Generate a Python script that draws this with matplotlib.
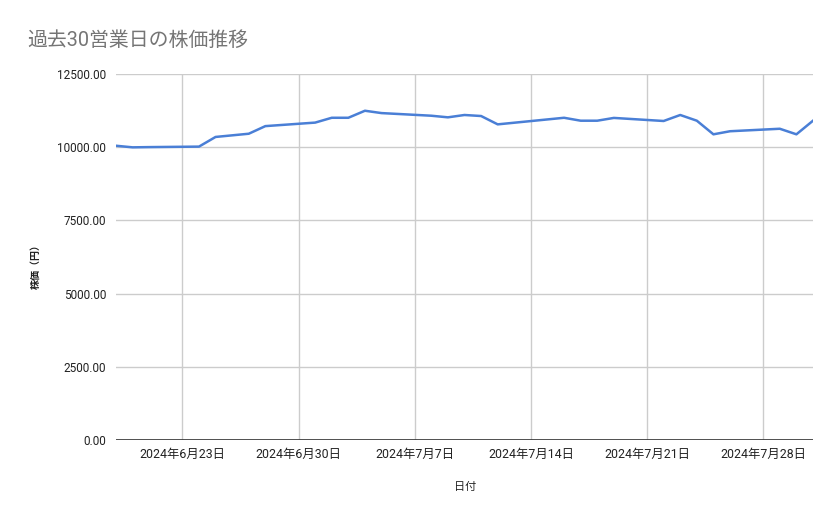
import matplotlib
matplotlib.use("Agg")
import matplotlib.pyplot as plt
import matplotlib.dates as mdates
import numpy as np
import pandas as pd

plt.rcParams['font.family'] = ['Roboto', 'Noto Sans CJK JP', 'DejaVu Sans']

title = "過去30営業日の株価推移"
x_label = "日付"
y_label = "株価（円）"

dates = ["2024-06-19", "2024-06-20", "2024-06-21", "2024-06-24", "2024-06-25",
         "2024-06-26", "2024-06-27", "2024-06-28", "2024-07-01", "2024-07-02",
         "2024-07-03", "2024-07-04", "2024-07-05", "2024-07-08", "2024-07-09",
         "2024-07-10", "2024-07-11", "2024-07-12", "2024-07-16", "2024-07-17",
         "2024-07-18", "2024-07-19", "2024-07-22", "2024-07-23", "2024-07-24",
         "2024-07-25", "2024-07-26", "2024-07-29", "2024-07-30", "2024-07-31"]
prices = [10050, 9995, 10003, 10020, 10350,
          10405, 10460, 10720, 10840, 11005,
          11005, 11245, 11165, 11075, 11020,
          11100, 11065, 10780, 11005, 10905,
          10905, 11000, 10895, 11100, 10905,
          10440, 10545, 10630, 10440, 10905]
y_ticks = [0, 2500, 5000, 7500, 10000, 12500]
x_tick_dates = ["2024-06-23", "2024-06-30", "2024-07-07", "2024-07-14", "2024-07-21", "2024-07-28"]

d = pd.to_datetime(dates)
xt = pd.to_datetime(x_tick_dates)

fig = plt.figure(figsize=(8.39, 5.19), dpi=100)
ax = fig.add_axes([116/839, 1-440/519, (813-116)/839, (440-74)/519])

ax.plot(d, prices, color="#4a7fd6", linewidth=1.8, solid_joinstyle='round', zorder=3)

ax.set_xlim(d[0], d[-1])
ax.set_ylim(0, 12500)
ax.set_yticks(y_ticks)
ax.set_yticklabels([f"{v:.2f}" for v in y_ticks])
ax.set_xticks(xt)
ax.set_xticklabels([f"{t.year}年{t.month}月{t.day}日" for t in xt])

ax.grid(True, color="#cccccc", linewidth=1.0, zorder=0)
ax.axhline(0, color="#333333", linewidth=1.2, zorder=2)
for s in ax.spines.values():
    s.set_visible(False)
ax.tick_params(axis='y', length=0, labelsize=8.5, colors="#222222", pad=7)
ax.tick_params(axis='x', length=0, labelsize=8.9, colors="#222222", pad=6)

fig.text(465/839, 1-487/519, x_label, ha='center', va='center', fontsize=8, color="#222222")
fig.text(36/839, 1-264/519, y_label, ha='center', va='center', rotation=90, fontsize=7.2,
         color="#222222", fontweight='bold')
fig.text(27/839, 1-40/519, title, ha='left', va='center', fontsize=14.3, color="#757575")

fig.savefig("out.png", dpi=100)
